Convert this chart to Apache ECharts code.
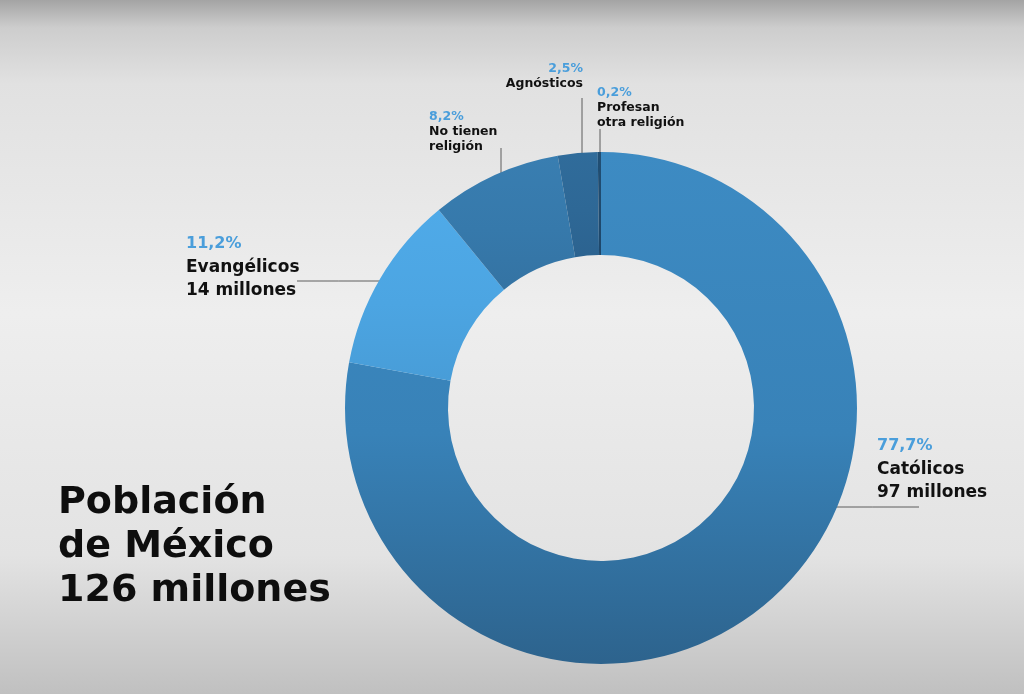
<!DOCTYPE html>
<html>
<head>
<meta charset="utf-8">
<title>Población de México</title>
<script src="https://cdn.jsdelivr.net/npm/echarts@6/dist/echarts.min.js"></script>
<style>
  html, body { margin: 0; padding: 0; }
  #chart { width: 1024px; height: 694px; }
</style>
</head>
<body>
<div id="chart"></div>
<script>
// datos: religión en México (porcentaje de la población)
const categorias = ['Católicos', 'Evangélicos', 'No tienen religión', 'Agnósticos', 'Profesan otra religión'];
const etiquetas = ['Católicos', 'Evangélicos', 'No tienen\nreligión', 'Agnósticos', 'Profesan\notra religión'];
const porcentajes = [77.7, 11.2, 8.2, 2.5, 0.2];
const millones = [97, 14, null, null, null];
const titulo = 'Población\nde México\n126 millones';

// colores de cada porción (arriba -> abajo, por la luz del video)
const colores = [
  ['#3d8bc3', '#3882b8', '#2d638d'],
  ['#4faae8', '#4ca5e2', '#489dd8'],
  ['#397eb1', '#3679ab', '#3473a3'],
  ['#306c9b', '#2e6896', '#2c6390'],
  ['#214f74', '#1f4a6e', '#1e476a']
];

// posición de las etiquetas y de sus líneas guía
const posEtiquetas = [
  { x: 877, y: 434, align: 'left',  linea: [[826, 507], [919, 507]] },
  { x: 186, y: 232, align: 'left',  linea: [[297, 281], [380, 281]] },
  { x: 429, y: 109, align: 'left',  linea: [[501, 148], [501, 188]] },
  { x: 583, y: 61,  align: 'right', linea: [[582, 98],  [582, 162]] },
  { x: 597, y: 85,  align: 'left',  linea: [[600, 129], [600, 253]] }
];

const FONT = 'DejaVu Sans';
const chart = echarts.init(document.getElementById('chart'));

function formato (p) {
  const i = p.dataIndex;
  const pct = porcentajes[i].toFixed(1).replace('.', ',') + '%';
  const grande = millones[i] !== null;
  const lineas = etiquetas[i].split('\n');
  if (grande) lineas.push(millones[i] + ' millones');
  const e = grande ? 'n' : 'ns';
  return '{' + (grande ? 'p' : 'ps') + '|' + pct + '}\n' +
    lineas.map(l => '{' + e + '|' + l + '}').join('\n');
}

chart.setOption({
  animation: false,
  backgroundColor: {
    type: 'linear', x: 0, y: 0, x2: 0, y2: 1,
    colorStops: [
      { offset: 0, color: '#a4a4a4' },
      { offset: 0.04, color: '#cdcdcd' },
      { offset: 0.12, color: '#e1e1e1' },
      { offset: 0.45, color: '#eeeeee' },
      { offset: 0.8, color: '#e3e3e3' },
      { offset: 1, color: '#c0c0c0' }
    ]
  },
  title: {
    text: titulo,
    left: 58,
    top: 481,
    padding: 0,
    textStyle: {
      fontFamily: FONT,
      fontSize: 38,
      lineHeight: 44,
      fontWeight: 'bold',
      color: '#0e0e0e'
    }
  },
  series: [
    {
      type: 'pie',
      center: [601, 408],
      radius: [153, 256],
      startAngle: 90,
      clockwise: true,
      avoidLabelOverlap: false,
      silent: true,
      emphasis: { disabled: true },
      data: categorias.map((c, i) => ({
        name: c,
        value: porcentajes[i],
        itemStyle: {
          color: {
            type: 'linear', x: 0, y: 0, x2: 0, y2: 1,
            colorStops: [
              { offset: 0, color: colores[i][0] },
              { offset: 0.55, color: colores[i][1] },
              { offset: 1, color: colores[i][2] }
            ]
          }
        }
      })),
      label: {
        show: true,
        position: 'outside',
        formatter: formato,
        rich: {
          p: { fontFamily: FONT, fontSize: 16, fontWeight: 'bold', color: '#4a9edb', lineHeight: 23.5 },
          n: { fontFamily: FONT, fontSize: 17, fontWeight: 'bold', color: '#111111', lineHeight: 23.5 },
          ps: { fontFamily: FONT, fontSize: 12.5, fontWeight: 'bold', color: '#4a9edb', lineHeight: 15 },
          ns: { fontFamily: FONT, fontSize: 12.5, fontWeight: 'bold', color: '#111111', lineHeight: 15 }
        }
      },
      labelLine: {
        show: true,
        lineStyle: { color: 'rgba(35,35,35,0.7)', width: 1 }
      },
      labelLayout: function (params) {
        const pos = posEtiquetas[params.dataIndex];
        const a = pos.linea[0], b = pos.linea[1];
        return {
          x: pos.x,
          y: pos.y,
          align: pos.align,
          verticalAlign: 'top',
          labelLinePoints: [a, [(a[0] + b[0]) / 2, (a[1] + b[1]) / 2], b]
        };
      }
    }
  ]
});
</script>
</body>
</html>
